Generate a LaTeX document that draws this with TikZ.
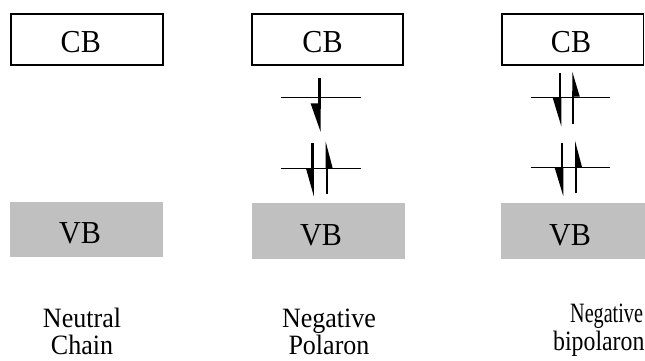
\documentclass[tikz,border=0pt]{standalone}
\usepackage{fontspec}
\setmainfont{Liberation Serif}
\definecolor{vbgray}{RGB}{192,192,192}
\newcommand\spindown[5]{%
  \draw[dshaft] (#1,#2) -- (#1,#3+6);
  \fill (#1+1.25,#3) -- (#1+1.25,#4) -- (#1+1.25-#5,#3) -- cycle;}
\newcommand\spinup[5]{%
  \draw[ushaft] (#1,#2) -- (#1,#3-6);
  \fill (#1-1,#3) -- (#1-1,#4) -- (#1-1+#5,#3) -- cycle;}
\begin{document}
\begin{tikzpicture}[x=1pt,y=-1pt,
  cbbox/.style={draw=black,line width=1.7pt},
  vbbox/.style={fill=vbgray},
  level/.style={line width=1.5pt},
  dshaft/.style={line width=2.6pt},
  ushaft/.style={line width=2pt},
  bandtxt/.style={anchor=base,inner sep=0pt,font=\fontsize{32}{36}\selectfont},
  lbl/.style={anchor=base,inner sep=0pt,font=\fontsize{28}{31}\selectfont}]
\useasboundingbox (0,0) rectangle (645,360);
\clip (0,0) rectangle (645,360);
% conduction bands
\draw[cbbox] (10.7,14.3) rectangle (162.7,65.3);
\draw[cbbox] (251.7,14.3) rectangle (403.3,65.3);
\draw[cbbox] (502,14.3) rectangle (643.5,65.3);
\node[bandtxt] (cb1) at (80.8,52.7) {\scalebox{0.94}[1]{CB}};
\node[bandtxt] (cb2) at (322.5,52.7) {\scalebox{0.94}[1]{CB}};
\node[bandtxt] (cb3) at (571,52.7) {\scalebox{0.94}[1]{CB}};
% valence bands
\fill[vbbox] (10,201.7) rectangle (163,256.7);
\fill[vbbox] (251.7,203.3) rectangle (405,259);
\fill[vbbox] (501,203.3) rectangle (650,259);
\node[bandtxt] (vb1) at (80,243.3) {\scalebox{0.94}[1]{VB}};
\node[bandtxt] (vb2) at (321,245) {\scalebox{0.94}[1]{VB}};
\node[bandtxt] (vb3) at (570,245) {\scalebox{0.94}[1]{VB}};
% levels
\draw[level] (281,97.3) -- (361,97.3);
\draw[level] (281,168.3) -- (361,168.3);
\draw[level] (530.7,97.7) -- (610,97.7);
\draw[level] (530.7,167.7) -- (610,167.7);
% spins, negative polaron
\spindown{319.3}{78.3}{103.3}{131.7}{10}
\spindown{312.7}{143.3}{168.3}{196.7}{8}
\spinup{326.7}{194.3}{168.3}{141.7}{7}
% spins, negative bipolaron
\spindown{560}{73.3}{98}{126}{8.5}
\spinup{573.3}{124}{96.7}{71.7}{7.5}
\spindown{562}{142.7}{168}{196}{8.5}
\spinup{576}{193.3}{167}{140.7}{7}
% labels
\node[lbl] (l1a) at (82,327) {\scalebox{0.93}[1]{Neutral}};
\node[lbl] (l1b) at (82,354) {\scalebox{0.93}[1]{Chain}};
\node[lbl] (l2a) at (329,327) {\scalebox{0.93}[1]{Negative}};
\node[lbl] (l2b) at (329,354) {\scalebox{0.93}[1]{Polaron}};
\node[lbl,anchor=base west] (l3a) at (570,322) {\scalebox{0.72}[1]{Negative}};
\node[lbl,anchor=base west] (l3b) at (553,350) {\scalebox{0.85}[1]{bipolaron}};
\end{tikzpicture}
\end{document}
